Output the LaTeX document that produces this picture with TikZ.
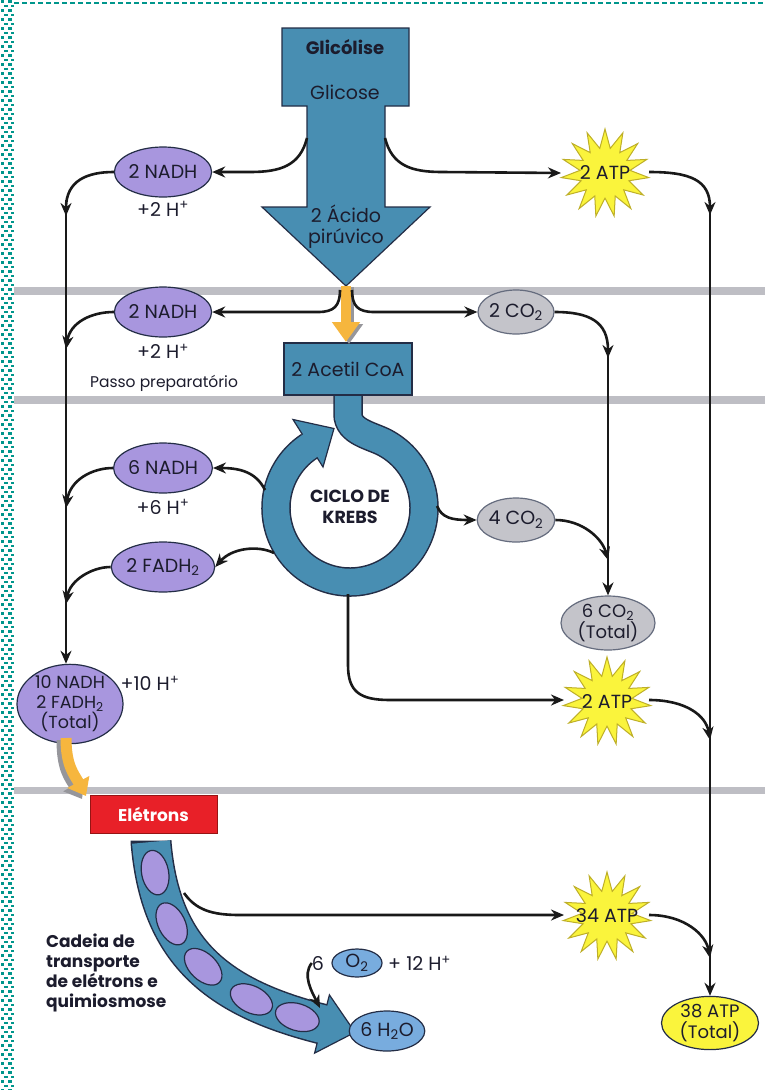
\documentclass[tikz,border=0pt]{standalone}
\usepackage{fontspec}
\setmainfont{Poppins}
\usetikzlibrary{shapes.geometric,arrows.meta,calc}

\definecolor{cycblue}{RGB}{72,142,178}
\definecolor{edge}{RGB}{35,45,70}
\definecolor{ink}{RGB}{28,28,45}
\definecolor{lav}{RGB}{168,150,222}
\definecolor{gasgray}{RGB}{196,196,202}
\definecolor{atpyel}{RGB}{250,244,60}
\definecolor{atpedge}{RGB}{190,175,40}
\definecolor{orng}{RGB}{246,182,62}
\definecolor{dropgray}{RGB}{150,150,155}
\definecolor{stripe}{RGB}{190,190,196}
\definecolor{redbox}{RGB}{232,32,40}
\definecolor{rededge}{RGB}{150,20,20}
\definecolor{waterblue}{RGB}{120,172,222}
\definecolor{tealedge}{RGB}{0,150,140}

\begin{document}
\begin{tikzpicture}[x=1pt,y=-1pt,
  font=\fontsize{19}{21}\selectfont,
  txt/.style={text=ink, align=center, inner sep=0pt},
  carrier/.style={ellipse, draw=edge, line width=1.2pt, fill=lav, minimum width=88, minimum height=50, inner sep=0pt, text=ink, align=center},
  gas/.style={ellipse, draw=edge!70, line width=1.2pt, fill=gasgray, minimum width=76, minimum height=44, inner sep=0pt, text=ink, align=center},
  burst/.style={star, star points=15, star point ratio=1.75, minimum size=88, fill=atpyel, draw=atpedge, line width=1pt, inner sep=0pt},
  drop/.style={ellipse, draw=edge, line width=1.2pt, fill=waterblue, inner sep=0pt, text=ink},
  oval/.style={ellipse, fill=lav, draw=edge, line width=1.2pt, minimum width=45, minimum height=27, inner sep=0pt},
  link/.style={line width=2.6pt, draw=black!90, -{Stealth[length=13pt,width=11pt]}},
  boldlbl/.style={font=\bfseries\fontsize{17}{20}\selectfont}
]
\useasboundingbox (0,0) rectangle (765,1090);
\fill[white] (0,0) rectangle (765,1090);

% page edge: dotted teal border
\foreach \y in {0,9,...,1090} {
  \fill[tealedge] (0.5,\y) rectangle (4,\y+2.6);
  \fill[tealedge] (8,\y) rectangle (11.5,\y+2.6);
  \fill[tealedge] (4,\y+4.5) rectangle (7.5,\y+7.1);
  \fill[tealedge] (11,\y+4.5) rectangle (14,\y+7.1);
}
\draw[tealedge, line width=1.6pt, dash pattern=on 5pt off 3pt] (14,3) -- (765,3);

% stage separators
\fill[stripe] (14,287) rectangle (765,295);
\fill[stripe] (14,396) rectangle (765,404);
\fill[stripe] (14,787) rectangle (765,794);

% glycolysis arrow
\filldraw[fill=cycblue, draw=edge, line width=1.2pt]
  (282,28) -- (409,28) -- (409,106) -- (385,106) -- (385,207) -- (430,207)
  -- (346,286) -- (262,207) -- (307,207) -- (307,106) -- (282,106) -- cycle;
\node[txt, font=\bfseries\fontsize{18}{20}\selectfont] (glyT) at (345,47) {Glicólise};
\node[txt] (glc) at (345,92) {Glicose};
\node[txt] (pyr) at (346,227) {2 Ácido\\pirúvico};

% Krebs cycle ring with its inlet from acetyl-CoA
\draw[edge, line width=29.5pt] (348,385) -- (348,414) .. controls (348,432) and (371.5,435.6) .. (384.74,442.66)
  arc[start angle=-62, end angle=237, radius=74];
\filldraw[fill=cycblue, draw=edge, line width=1.2pt, line join=miter]
  (293,419.5) -- (334,428.5) -- (323,467) -- cycle;
\draw[cycblue, line width=26.5pt] (348,380) -- (348,414) .. controls (348,432) and (371.5,435.6) .. (384.74,442.66)
  arc[start angle=-62, end angle=241, radius=74];
\node[txt, font=\bfseries\fontsize{17.5}{21}\selectfont] (krebs) at (350,507) {CICLO DE\\KREBS};

% acetyl-CoA box
\node[draw=edge, line width=1.2pt, fill=cycblue, minimum width=128, minimum height=52, txt] (acoa) at (348,369) {2 Acetil CoA};

% pyruvate feed (orange)
\draw[dropgray, line width=10pt, -{Triangle[length=20pt,width=27pt]}] (349,287) -- (349,344);
\draw[orng, line width=10pt, -{Triangle[length=20pt,width=27pt]}] (346,286) -- (346,342);

% carriers
\node[carrier] (nadhA) at (163,172) {2 NADH};
\node[txt] (hA) at (163,209) {+2 H\textsuperscript{+}};
\node[carrier] (nadhB) at (163,312) {2 NADH};
\node[txt] (hB) at (163,351) {+2 H\textsuperscript{+}};
\node[txt, font=\fontsize{15.5}{18}\selectfont] (prep) at (164,383) {Passo preparatório};
\node[carrier] (nadhC) at (163,468) {6 NADH};
\node[txt] (hC) at (163,507) {+6 H\textsuperscript{+}};
\node[carrier] (fadh) at (163,567) {2 FADH\textsubscript{2}};
\node[carrier, minimum width=106, minimum height=72, font=\fontsize{17.5}{20}\selectfont] (total) at (70,704) {10 NADH\\2 FADH\textsubscript{2}\\(Total)};
\node[txt] (hTot) at (150,683) {+10 H\textsuperscript{+}};

% carbon dioxide
\node[gas] (co2A) at (516,312) {2 CO\textsubscript{2}};
\node[gas] (co2B) at (516,520) {4 CO\textsubscript{2}};
\node[gas, minimum width=94, minimum height=54, font=\fontsize{18}{21}\selectfont] (co2T) at (608,623) {6 CO\textsubscript{2}\\(Total)};

% ATP
\node[burst] (atpA) at (605,173) {};
\node[txt] (atpAt) at (atpA) {2 ATP};
\node[burst] (atpB) at (607,701) {};
\node[txt] (atpBt) at (atpB) {2 ATP};
\node[burst] (atpC) at (607,916) {};
\node[txt] (atpCt) at (atpC) {34 ATP};
\node[ellipse, draw=edge, line width=1.2pt, fill=atpyel, minimum width=97, minimum height=53, inner sep=0pt, txt, font=\fontsize{18}{21}\selectfont] (atpT) at (710,1023) {38 ATP\\(Total)};

% electrons
\draw[dropgray, line width=11pt, -{Triangle[length=16pt,width=24pt]}] (62,740) .. controls (62,770) and (70,778) .. (82,799);
\draw[orng, line width=11pt, -{Triangle[length=16pt,width=24pt]}] (66,738) .. controls (66,766) and (74,774) .. (86,796);
\node[draw=rededge, line width=1pt, fill=redbox, minimum width=127, minimum height=38, text=white, boldlbl, inner sep=0pt] (elec) at (153.5,814) {Elétrons};

% electron transport chain band
\draw[edge, line width=41pt] (151,840.5) -- (151,842) .. controls (160,950) and (215,997) .. (322,1024);
\filldraw[fill=cycblue, draw=edge, line width=1.2pt, line join=miter]
  (329.4,994.9) -- (355,1032.3) -- (314.6,1053.1) -- cycle;
\draw[cycblue, line width=38pt] (151,842) .. controls (160,950) and (215,997) .. (322,1024) -- (326,1025);
\path (151,842) .. controls (160,950) and (215,997) .. (322,1024)
  node[oval, pos=0.1, sloped] (c1) {}
  node[oval, pos=0.3, sloped] (c2) {}
  node[oval, pos=0.52, sloped] (c3) {}
  node[oval, pos=0.75, sloped] (c4) {}
  node[oval, pos=0.92, sloped] (c5) {};
\node[txt, boldlbl, anchor=west, align=left] (chain) at (46,973) {Cadeia de\\transporte\\de elétrons e\\quimiosmose};

% oxygen and water
\node[txt] (six) at (318,963) {6};
\node[drop, minimum width=50, minimum height=28] (o2) at (357,963) {O\textsubscript{2}};
\node[txt, anchor=west] (hx) at (388,963) {+ 12 H\textsuperscript{+}};
\node[drop, minimum width=66, minimum height=40] (h2o) at (387,1031) {6 H\textsubscript{2}O};

% left collector (reduced carriers)
\coordinate (lTop) at (66,200);
\draw[link] (lTop) -- (lTop |- total.north);
\draw[link] (nadhA.west) .. controls (88,172) and (66,180) .. (66,216);
\draw[link] (nadhB.west) .. controls (92,312) and (70,322) .. (66,349);
\draw[link] (nadhC.west) .. controls (92,468) and (70,480) .. (66,508);
\draw[link] (fadh.west) .. controls (92,567) and (70,580) .. (66,604);

% right collector (ATP)
\coordinate (rTop) at (710,200);
\draw[link] (rTop) -- (rTop |- atpT.north);
\draw[link] ($(atpA)+(44,-1)$) .. controls (690,172) and (710,180) .. (710,215);
\draw[link] ($(atpB)+(42,-1)$) .. controls (685,700) and (706,715) .. (710,740);
\draw[link] ($(atpC)+(42,-1)$) .. controls (685,915) and (706,935) .. (710,958);

% middle collector (carbon dioxide)
\coordinate (mTop) at (608,345);
\draw[link] (mTop) -- (co2T.north);
\draw[link] (co2A.east) .. controls (590,312) and (608,322) .. (608,358);
\draw[link] (co2B.east) .. controls (582,520) and (602,538) .. (608,560);

% glycolysis outputs
\coordinate (gL) at (307,138);
\coordinate (gR) at (385,138);
\draw[link] (gL) .. controls (300,166) and (280,172) .. (250,172) -- (nadhA.east);
\draw[link] (gR) .. controls (392,166) and (412,172) .. (442,172) -- ($(atpA)+(-44,0)$);

% preparatory step outputs
\coordinate (pL) at (340,290);
\coordinate (pR) at (352,290);
\draw[link] (pL) .. controls (340,306) and (334,312) .. (318,312) -- (nadhB.east);
\draw[link] (pR) .. controls (352,306) and (358,312) .. (374,312) -- (co2A.west);

% Krebs outputs
\coordinate (kA) at (265,490);
\coordinate (kB) at (274,553);
\coordinate (kC) at (437,506);
\coordinate (kD) at (348,594);
\draw[link] (kA) .. controls (256,472) and (240,468) .. (nadhC.east);
\draw[link] (kB) .. controls (258,545) and (232,548) .. (fadh.east);
\draw[link] (kC) .. controls (442,518) and (452,520) .. (co2B.west);
\draw[link] (kD) -- (348,665) .. controls (348,692) and (360,700) .. (390,700) -- ($(atpB)+(-43,-1)$);

% oxidative phosphorylation outputs
\coordinate (eT) at (184,893);
\draw[link] (eT) .. controls (196,910) and (212,915) .. (240,915) -- ($(atpC)+(-43,-1)$);
\draw[link] (six.west) .. controls (302,975) and (312,992) .. (320,1008);
\end{tikzpicture}
\end{document}
